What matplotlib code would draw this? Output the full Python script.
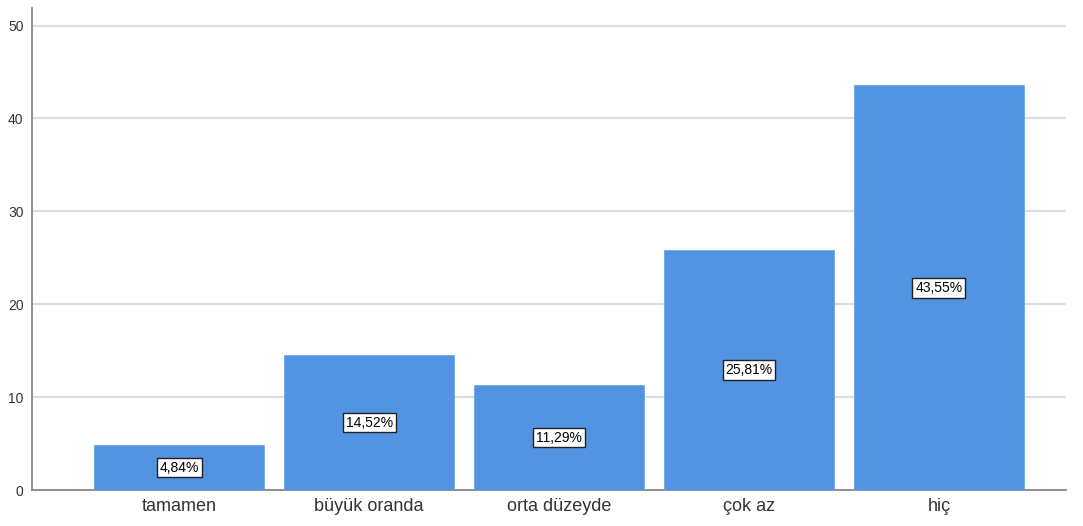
import matplotlib.pyplot as plt

plt.rcParams['font.family'] = ['Liberation Sans', 'DejaVu Sans']

categories = ['tamamen', 'büyük oranda', 'orta düzeyde', 'çok az', 'hiç']
percents = [4.84, 14.52, 11.29, 25.81, 43.55]
yticks = [0, 10, 20, 30, 40, 50]

fig = plt.figure(figsize=(10.83, 5.26), dpi=100)
ax = fig.add_axes([0.0295, 0.0684, 0.9545, 0.9166])

x = range(len(categories))
ax.bar(x, percents, width=0.895, color='#5294E2', edgecolor='#6FA6EA', linewidth=0.6, zorder=3)

for i, v in enumerate(percents):
    ax.text(i, v / 2, f'{v:.2f}%'.replace('.', ','), ha='center', va='center',
            fontsize=10, color='black', zorder=4,
            bbox=dict(boxstyle='square,pad=0.2', facecolor='white', edgecolor='#222222', linewidth=1.0))

ax.set_xlim(-0.776, 4.668)
ax.set_ylim(0, 51.9)
ax.set_yticks(yticks)
ax.set_xticks(list(x))
ax.set_xticklabels(categories, fontsize=13, color='#333333')
ax.tick_params(axis='y', labelsize=10, colors='#333333', length=0, pad=6)
ax.tick_params(axis='x', length=0, pad=6)
ax.yaxis.grid(True, color='#dddddd', linewidth=1.5, zorder=0)

for s in ['top', 'right']:
    ax.spines[s].set_visible(False)
ax.spines['left'].set_color('#888888')
ax.spines['bottom'].set_color('#888888')
ax.spines['left'].set_linewidth(1.3)
ax.spines['bottom'].set_linewidth(1.3)

fig.savefig('out.png', dpi=100)
